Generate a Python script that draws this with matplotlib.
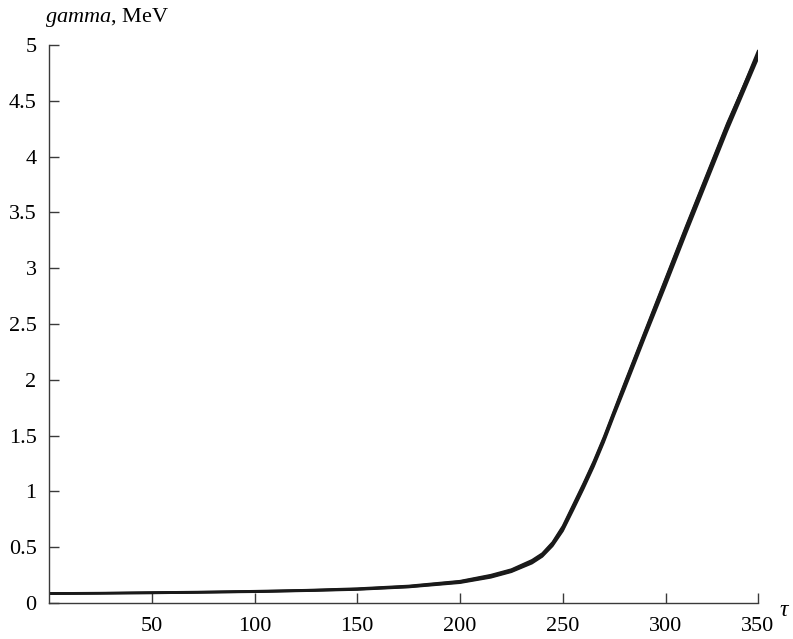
import matplotlib
matplotlib.use('Agg')
import matplotlib.pyplot as plt

# tau values (axis units) and several overlapping gamma realisations, MeV
tau = [0, 25, 50, 75, 100, 125, 150, 175, 200, 215, 225, 235, 240, 245,
       250, 255, 260, 265, 270, 275, 280, 290, 300, 310, 320, 330, 345]

gamma_runs = [
    [0.085, 0.088, 0.092, 0.097, 0.103, 0.112, 0.125, 0.148, 0.190, 0.240,
     0.290, 0.370, 0.430, 0.530, 0.670, 0.860, 1.050, 1.250, 1.470, 1.710,
     1.950, 2.420, 2.890, 3.360, 3.820, 4.280, 4.950],
    [0.082, 0.085, 0.088, 0.094, 0.099, 0.108, 0.119, 0.141, 0.180, 0.228,
     0.278, 0.355, 0.415, 0.510, 0.645, 0.830, 1.020, 1.220, 1.440, 1.680,
     1.910, 2.380, 2.840, 3.310, 3.770, 4.230, 4.880],
    [0.088, 0.091, 0.096, 0.101, 0.108, 0.117, 0.131, 0.155, 0.198, 0.252,
     0.302, 0.385, 0.445, 0.545, 0.690, 0.880, 1.070, 1.270, 1.490, 1.730,
     1.970, 2.440, 2.910, 3.380, 3.840, 4.300, 4.930],
    [0.084, 0.087, 0.090, 0.095, 0.101, 0.110, 0.122, 0.144, 0.185, 0.234,
     0.284, 0.362, 0.422, 0.520, 0.655, 0.845, 1.035, 1.235, 1.455, 1.695,
     1.930, 2.400, 2.860, 3.330, 3.790, 4.250, 4.900],
    [0.086, 0.089, 0.093, 0.099, 0.105, 0.114, 0.127, 0.151, 0.194, 0.246,
     0.296, 0.378, 0.438, 0.538, 0.680, 0.870, 1.060, 1.260, 1.480, 1.720,
     1.960, 2.430, 2.900, 3.370, 3.830, 4.290, 4.920],
]

x_ticks = [50, 100, 150, 200, 250, 300, 345]
x_tick_labels = ['50', '100', '150', '200', '250', '300', '350']
y_ticks = [0, 0.5, 1, 1.5, 2, 2.5, 3, 3.5, 4, 4.5, 5]
y_tick_labels = ['0', '0.5', '1', '1.5', '2', '2.5', '3', '3.5', '4', '4.5', '5']

plt.rcParams['font.family'] = 'Liberation Serif'
plt.rcParams['mathtext.fontset'] = 'custom'
plt.rcParams['mathtext.it'] = 'Liberation Serif:italic'
plt.rcParams['mathtext.rm'] = 'Liberation Serif'

fig = plt.figure(figsize=(7.93, 6.39), dpi=100)
ax = fig.add_axes([0.0618, 0.0563, 0.8941, 0.8733])

for run in gamma_runs:
    ax.plot(tau, run, color='#1a1a1a', lw=1.5, solid_capstyle='round',
            solid_joinstyle='round')

ax.set_xlim(0, 345)
ax.set_ylim(0, 5)
ax.set_xticks(x_ticks)
ax.set_xticklabels(x_tick_labels)
ax.set_yticks(y_ticks)
ax.set_yticklabels(y_tick_labels)

for side in ['top', 'right']:
    ax.spines[side].set_visible(False)
for side in ['left', 'bottom']:
    ax.spines[side].set_color('#3a3a3a')
    ax.spines[side].set_linewidth(1.0)

ax.tick_params(axis='both', direction='in', length=7, width=1.0,
               color='#3a3a3a', labelsize=16)
ax.tick_params(axis='x', pad=10)
ax.tick_params(axis='y', pad=9)

fig.text(0.057, 0.972, r'$\mathit{gamma}$, MeV', fontsize=16,
         ha='left', va='center')
fig.text(0.990, 0.045, r'$\mathit{\tau}$', fontsize=17,
         ha='center', va='center')

fig.savefig('out.png', dpi=100)
